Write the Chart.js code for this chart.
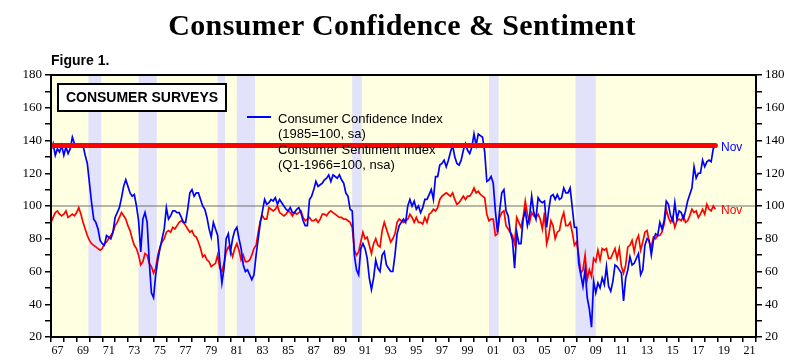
<!DOCTYPE html>
<html>
<head>
<meta charset="utf-8">
<script src="https://cdn.jsdelivr.net/npm/chart.js@4/dist/chart.umd.min.js"></script>
<style>
  html, body { margin: 0; padding: 0; background: #ffffff; }
  #wrap { position: relative; width: 800px; height: 360px; overflow: hidden; background: #ffffff; }
  #c { position: absolute; left: 0; top: 0; }
  .abs { position: absolute; white-space: nowrap; }
  #title { left: 2px; top: 7px; width: 800px; text-align: center; font: bold 30px "Liberation Serif", serif; line-height: 36px; color: #000; letter-spacing: 0.4px; }
  #fig { left: 51px; top: 51px; font: bold 14px "Liberation Sans", Arial, sans-serif; line-height: 18px; color: #000; }
  #box { left: 57px; top: 83px; width: 166px; height: 25px; border: 2px solid #000; background: #fff;
         font: bold 14px "Liberation Sans", Arial, sans-serif; line-height: 25px; text-align: center; color: #000; }
  .leg { font: 13px "Liberation Sans", Arial, sans-serif; line-height: 15px; color: #000; }
  .sw { position: absolute; height: 2px; width: 24px; }
  .nov { font: 12px "Liberation Sans", Arial, sans-serif; line-height: 14px; }
</style>
</head>
<body>
<div id="wrap">
  <canvas id="c" width="800" height="360"></canvas>
  <div id="title" class="abs">Consumer Confidence &amp; Sentiment</div>
  <div id="fig" class="abs">Figure 1.</div>
  <div id="box" class="abs">CONSUMER SURVEYS</div>
  <div class="sw" style="left:247px;top:116px;background:#0000ff"></div>
  <div class="abs leg" style="left:278px;top:111px">Consumer Confidence Index<br>(1985=100, sa)</div>
  <div class="sw" style="left:247px;top:146px;background:#ff0000"></div>
  <div class="abs leg" style="left:278px;top:142px">Consumer Sentiment Index<br>(Q1-1966=100, nsa)</div>
  <div class="abs nov" style="left:721px;top:140px;color:#0000ff">Nov</div>
  <div class="abs nov" style="left:721px;top:203px;color:#ff0000">Nov</div>
</div>
<script>
// ---------- DATA ----------
// bimonthly observations (Jan, Mar, May, Jul, Sep, Nov) from 1967 to Nov 2018
const startYear = 1967;
const endYear = 2018;
const obsMonths = [0, 2, 4, 6, 8, 10];

// Conference Board Consumer Confidence Index (1985=100, sa)
const confidence = [
  134,138,131,135,133,137, // 1967
  131,136,132,135,142,138, // 1968
  138,137,138,137,131,126, // 1969
  114,102, 92, 90, 86, 79, // 1970
   77, 76, 82, 81, 80, 84, // 1971
   93, 96, 99,105,112,116, // 1972
  112,108,106,107,100, 91, // 1973
   72, 92, 96, 90, 66, 47, // 1974
   44, 58, 67, 74, 80, 86, // 1975
   99, 92, 94, 97, 97, 96, // 1976
   96, 93, 90, 90, 98,108, // 1977
  110,106,108,108,104,100, // 1978
   98, 93, 86, 81, 90, 86, // 1979
   82, 66, 53, 62, 80, 83, // 1980
   72, 80, 85, 87, 80, 74, // 1981
   64, 60, 61, 58, 55, 58, // 1982
   70, 80, 90, 97,104,101, // 1983
  102,104,103,105,101,104, // 1984
  102,100, 98, 97, 99, 96, // 1985
   96, 98, 99, 96, 91, 88, // 1986
   88,104,106,110,115,112, // 1987
  113,114,116,117,119,115, // 1988
  119,118,117,119,116,114, // 1989
  108,106, 98, 97, 70, 61, // 1990
   58, 74, 77, 74, 68, 56, // 1991
   49, 56, 67, 62, 60, 70, // 1992
   72, 64, 62, 60, 60, 70, // 1993
   83, 88, 90, 92, 90,100, // 1994
  104,100,103, 98,100, 96, // 1995
   99,104,104,107,110,104, // 1996
  118,118,125,126,128,124, // 1997
  128,133,137,130,126,125, // 1998
  128,134,138,134,132,136, // 1999
  144,137,144,143,142,133, // 2000
  115,116,118,114, 97, 84, // 2001
   97,108,110, 97, 94, 84, // 2002
   79, 62, 84, 77, 77, 92, // 2003
   97, 88, 94,106, 96, 92, // 2004
  105,103,102,103, 87, 98, // 2005
  106,107,104,107,104,105, // 2006
  111,108,108,111, 99, 87, // 2007
   87, 65, 58, 51, 61, 44, // 2008
   37, 26, 54, 47, 53, 50, // 2009
   56, 52, 63, 51, 48, 54, // 2010
   64, 63, 61, 59, 42, 56, // 2011
   61, 69, 64, 65, 68, 71, // 2012
   58, 61, 76, 80, 79, 70, // 2013
   79, 83, 82, 90, 86, 91, // 2014
  103,101, 94, 91,102, 92, // 2015
   97, 96, 92, 97,103,107, // 2016
  111,124,117,120,120,128, // 2017
  124,127,128,127,135,137  // 2018
];

// University of Michigan Consumer Sentiment Index (Q1-1966=100, nsa)
const sentiment = [
   90, 93, 96, 97, 95, 94, // 1967
   95, 97, 93, 94, 95, 94, // 1968
   96, 99, 95, 90, 86, 82, // 1969
   79, 77, 76, 75, 74, 73, // 1970
   74, 77, 78, 80, 82, 84, // 1971
   88, 90, 93, 96, 94, 92, // 1972
   88, 85, 80, 76, 74, 70, // 1973
   64, 66, 71, 70, 65, 63, // 1974
   59, 62, 70, 75, 78, 80, // 1975
   84, 85, 84, 87, 86, 88, // 1976
   90, 91, 90, 88, 86, 84, // 1977
   85, 82, 81, 78, 74, 69, // 1978
   70, 67, 66, 63, 64, 65, // 1979
   70, 62, 60, 65, 72, 75, // 1980
   73, 69, 74, 77, 73, 67, // 1981
   70, 66, 66, 67, 70, 74, // 1982
   76, 84, 91, 94, 92, 92, // 1983
   99, 98, 97, 98,100, 96, // 1984
   95, 94, 95, 97, 96, 94, // 1985
   96, 95, 96, 97, 93, 91, // 1986
   92, 93, 91, 91, 92, 90, // 1987
   92, 95, 95, 94, 96, 97, // 1988
   96, 95, 94, 93, 93, 92, // 1989
   92, 91, 90, 87, 73, 70, // 1990
   72, 78, 84, 80, 81, 76, // 1991
   71, 77, 80, 76, 75, 85, // 1992
   90, 86, 82, 78, 80, 83, // 1993
   90, 92, 91, 90, 91, 92, // 1994
   95, 93, 90, 93, 90, 90, // 1995
   89, 93, 90, 95, 96, 98, // 1996
   97, 99,104,106,107,108, // 1997
  107,106,108,104,101,102, // 1998
  104,106,104,106,106,108, // 1999
  111,108,109,107,106,105, // 2000
   95, 91, 92, 92, 82, 83, // 2001
   93, 96, 97, 88, 86, 84, // 2002
   82, 77, 93, 90, 87, 93, // 2003
  103, 95, 90, 96, 94, 93, // 2004
   95, 92, 86, 96, 77, 82, // 2005
   91, 88, 80, 84, 85, 92, // 2006
   96, 88, 88, 90, 84, 76, // 2007
   78, 70, 59, 61, 70, 55, // 2008
   61, 57, 68, 66, 73, 67, // 2009
   74, 73, 74, 68, 68, 71, // 2010
   74, 68, 74, 63, 59, 64, // 2011
   75, 76, 79, 72, 79, 82, // 2012
   73, 78, 84, 85, 78, 75, // 2013
   81, 80, 82, 82, 84, 89, // 2014
   98, 93, 90, 93, 87, 91, // 2015
   92, 91, 94, 90, 91, 94, // 2016
   98, 96, 97, 93, 95, 98, // 2017
   95,101, 98, 97,100, 98  // 2018
];

// latest confidence reading marked with a horizontal line
const latestLevel = 137;
// reference level
const baseLevel = 100;

// recession periods (decimal years)
const recessionStart = [1969.92, 1973.83, 1980.0, 1981.5, 1990.5, 2001.17, 2007.92];
const recessionEnd   = [1970.92, 1975.25, 1980.58, 1982.92, 1991.25, 2001.92, 2009.5];

// axis ranges / ticks
const xMin = 1967, xMax = 2022;
const yMin = 20, yMax = 180;

// ---------- BUILD ----------
const dates = [];
for (let y = startYear; y <= endYear; y++) {
  for (const m of obsMonths) dates.push(y + m / 12);
}
const n = Math.min(dates.length, confidence.length, sentiment.length);
const confPts = [], sentPts = [];
for (let i = 0; i < n; i++) {
  confPts.push({x: dates[i], y: confidence[i]});
  sentPts.push({x: dates[i], y: sentiment[i]});
}
const lastX = dates[n - 1];

const bgPlugin = {
  id: 'bg',
  beforeDraw(chart) {
    const {ctx, chartArea: a, scales} = chart;
    ctx.save();
    ctx.fillStyle = '#ffffe1';
    ctx.fillRect(a.left, a.top, a.right - a.left, a.bottom - a.top);
    ctx.fillStyle = '#e2e2fa';
    for (let i = 0; i < recessionStart.length; i++) {
      const x0 = scales.x.getPixelForValue(recessionStart[i]);
      const x1 = scales.x.getPixelForValue(recessionEnd[i]);
      ctx.fillRect(x0, a.top, x1 - x0, a.bottom - a.top);
    }
    ctx.restore();
  },
  afterDraw(chart) {
    const {ctx, chartArea: a} = chart;
    ctx.save();
    ctx.strokeStyle = '#000';
    ctx.lineWidth = 2;
    ctx.strokeRect(a.left, a.top, a.right - a.left, a.bottom - a.top);
    ctx.restore();
  }
};

const serif = {family: '"Liberation Serif", "Times New Roman", serif', size: 13};

function yAxis(pos, w) {
  return {
    type: 'linear', position: pos, min: yMin, max: yMax,
    ticks: {
      stepSize: 10, autoSkip: false, color: '#000', font: serif, padding: 3,
      callback: v => (v % 20 === 0 ? String(v) : '')
    },
    grid: {display: true, drawOnChartArea: false, drawTicks: true, tickLength: 6, color: '#000', tickColor: '#000', lineWidth: 1.5},
    border: {display: true, color: '#000', width: 2},
    afterFit: s => { s.width = w; }
  };
}

new Chart(document.getElementById('c'), {
  type: 'line',
  data: {
    datasets: [
      {label: 'Latest', data: [{x: xMin, y: latestLevel}, {x: lastX, y: latestLevel}],
       borderColor: '#ff0000', borderWidth: 5, pointRadius: 0, borderCapStyle: 'round', yAxisID: 'y'},
      {label: 'Consumer Confidence Index', data: confPts, borderColor: '#0000ff', borderWidth: 1.7,
       pointRadius: 0, tension: 0, yAxisID: 'y'},
      {label: 'Consumer Sentiment Index', data: sentPts, borderColor: '#ff0000', borderWidth: 1.7,
       pointRadius: 0, tension: 0, yAxisID: 'y'},
      {label: 'Base', data: [{x: xMin, y: baseLevel}, {x: xMax, y: baseLevel}],
       borderColor: '#6e6e6e', borderWidth: 1, pointRadius: 0, yAxisID: 'y'}
    ]
  },
  options: {
    responsive: false, animation: false,
    layout: {padding: {top: 75, left: 0, right: 0, bottom: 0}},
    plugins: {legend: {display: false}, tooltip: {enabled: false}, title: {display: false}},
    scales: {
      x: {
        type: 'linear', position: 'bottom', min: xMin, max: xMax,
        ticks: {
          stepSize: 1, autoSkip: false, maxRotation: 0, minRotation: 0, color: '#000',
          font: {family: serif.family, size: 12}, padding: 2, labelOffset: 6.4,
          callback: v => (v % 2 === 1 && v < xMax ? String(v % 100).padStart(2, '0') : '')
        },
        grid: {display: true, drawOnChartArea: false, drawTicks: true, tickLength: 5, color: '#000', tickColor: '#000', lineWidth: 1.5},
        border: {display: true, color: '#000', width: 2},
        afterFit: s => { s.height = 23; }
      },
      y: yAxis('left', 51),
      y2: yAxis('right', 44)
    }
  },
  plugins: [bgPlugin]
});
</script>
</body>
</html>
